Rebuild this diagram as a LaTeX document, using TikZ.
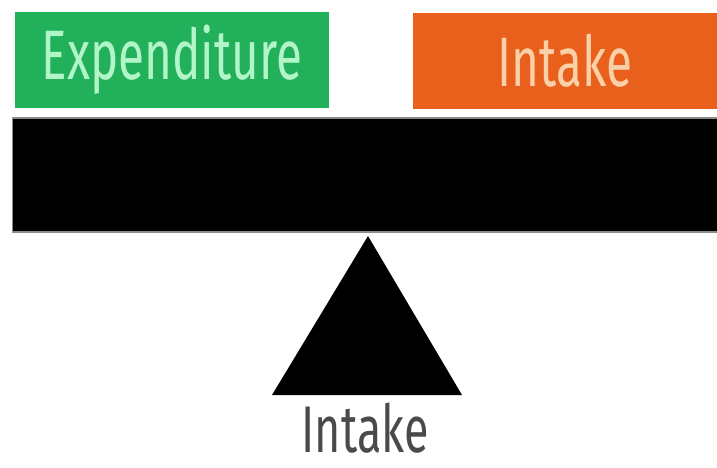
\documentclass[tikz,border=0pt]{standalone}
\usepackage{fontspec}
\setmainfont{Fira Sans}[FakeStretch=0.68]
\usetikzlibrary{positioning}
\definecolor{expgreen}{HTML}{22B15A}
\definecolor{intorange}{HTML}{E8601C}
\definecolor{exptext}{HTML}{B2F5C8}
\definecolor{inttext}{HTML}{FAD0A8}
\definecolor{labelgrey}{HTML}{4A4A4A}
\tikzset{
  pan/.style={inner sep=0pt, minimum height=96pt, font=\fontsize{70}{70}\selectfont},
  fulcrumlabel/.style={inner sep=0pt, text=labelgrey, font=\fontsize{66}{66}\selectfont}
}
\begin{document}
\begin{tikzpicture}[x=1pt,y=-1pt]
  \useasboundingbox (0,0) rectangle (717,467);
  \node (exp) [pan, fill=expgreen, text=exptext, minimum width=314pt] at (172,60) {Expenditure};
  \node (int) [pan, fill=intorange, text=inttext, minimum width=304pt] at (565,61) {Intake};
  % beam
  \node (beam) [fill=black, draw=black!45, line width=1.5pt, minimum width=705pt, minimum height=114pt, inner sep=0pt] at (365,175) {};
  % fulcrum
  \coordinate (top) at (368,236);
  \coordinate (bl) at (272,395);
  \coordinate (br) at (462,395);
  \fill (top) -- (br) -- (bl) -- cycle;
  \node (lbl) [fulcrumlabel, anchor=base] at (365,452) {Intake};
\end{tikzpicture}
\end{document}
